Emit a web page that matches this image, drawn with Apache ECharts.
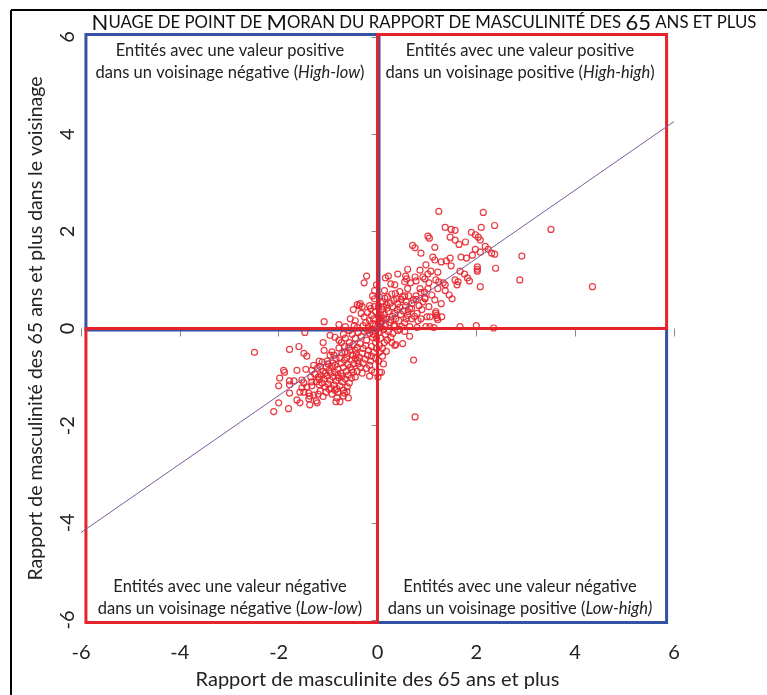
<!DOCTYPE html>
<html><head><meta charset="utf-8">
<script src="https://cdn.jsdelivr.net/npm/echarts@6/dist/echarts.min.js"></script>
<style>html,body{margin:0;padding:0;background:#fff}#c{width:767px;height:695px}</style>
</head><body><div id="c"></div>
<script>
const titleText = 'Nuage de point de Moran du rapport de masculinité des 65 ans et plus';
const xAxisTitle = 'Rapport de masculinite des 65 ans et plus';
const yAxisTitle = 'Rapport de masculinité des 65 ans et plus dans le voisinage';
const axisMin = -6, axisMax = 6, axisStep = 2;

const quadrantLabels = [
  ['Entités avec une valeur positive', 'dans un voisinage négative (', 'High-low', ')'],
  ['Entités avec une valeur positive', 'dans un voisinage positive (', 'High-high', ')'],
  ['Entités avec une valeur négative', 'dans un voisinage négative (', 'Low-low', ')'],
  ['Entités avec une valeur négative', 'dans un voisinage positive (', 'Low-high)', '']
];
// quadrant boxes [x0, y0, x1, y1] in data units
const blueBoxes = [[-5.9, -0.03, 0.03, 6.05], [0, -6.05, 5.85, 0]];
const redBoxes = [[0, 0, 5.85, 6.05], [-5.9, -6.05, 0, 0]];

const regressionLine = [[-6, -4.2], [6, 4.26]];

const upperRight = [
[1.24,2.41],[2.14,2.39],[2.37,2.12],[3.51,2.04],[1.37,2.08],[1.49,2.04],[1.57,2.02],[2.10,2.08],[1.02,1.90],[1.05,1.86],
[1.47,1.88],[1.90,1.98],[1.98,1.93],[2.04,1.88],[2.08,1.82],[1.57,1.82],[1.78,1.78],[1.65,1.73],[0.71,1.71],[0.76,1.66],
[1.16,1.67],[1.98,1.63],[2.18,1.69],[2.24,1.63],[0.88,1.55],[2.08,1.57],[1.92,1.51],[2.31,1.55],[2.37,1.53],[2.92,1.49],
[1.12,1.47],[1.16,1.41],[1.47,1.45],[1.69,1.47],[1.80,1.45],[1.29,1.37],[1.39,1.39],[0.98,1.31],[1.49,1.29],[2.02,1.27],
[2.02,1.22],[2.02,1.18],[2.39,1.24],[0.61,1.22],[0.86,1.20],[1.22,1.16],[1.08,1.18],[1.02,1.12],[1.67,1.18],[1.76,1.12],
[0.22,1.08],[0.16,1.04],[0.41,1.12],[0.57,1.08],[0.59,1.02],[0.76,1.06],[0.78,0.98],[0.92,1.06],[0.96,1.02],[1.18,1.00],
[1.24,0.96],[1.04,0.94],[1.33,0.94],[1.37,0.90],[1.57,1.00],[1.63,0.96],[1.61,0.90],[1.82,1.04],[1.86,0.98],[2.88,1.00],
[4.35,0.86],[2.08,0.86],[0.27,0.92],[0.35,0.90],[0.55,0.96],[0.67,0.94],[0.14,0.78],[0.61,0.82],[0.86,0.82],[0.88,0.74],
[1.02,0.82],[1.22,0.82],[1.37,0.78],[0.45,0.76],[0.20,0.65],[0.29,0.71],[0.39,0.61],[0.51,0.65],[0.63,0.67],[0.73,0.59],
[0.96,0.63],[1.10,0.69],[1.16,0.59],[1.45,0.69],[1.51,0.61],[0.10,0.55],[0.18,0.49],[0.31,0.45],[0.41,0.51],[0.57,0.47],
[0.69,0.41],[0.84,0.47],[0.90,0.39],[1.04,0.45],[1.29,0.51],[0.08,0.39],[0.22,0.35],[0.35,0.31],[0.47,0.29],[0.61,0.27],
[0.80,0.31],[1.00,0.24],[1.18,0.31],[0.12,0.22],[0.27,0.18],[0.43,0.16],[0.55,0.12],[0.69,0.20],[0.82,0.16],[0.98,0.04],
[1.22,0.18],[0.06,0.12],[0.16,0.08],[0.33,0.06],[0.49,0.04],[0.65,0.04],[0.80,0.02],[1.06,0.04],[1.14,0.02],[1.67,0.04],
[2.00,0.06],[2.35,0.01],[1.20,0.22],[1.30,0.24],[1.20,0.27],[0.14,0.29],[0.04,0.20],[0.02,0.45],[0.04,0.65],[0.03,0.05],
[0.08,0.02],[0.05,0.10],[0.10,0.15],[0.18,0.20],[0.24,0.12],[0.30,0.25],[0.37,0.20],[0.40,0.38],[0.45,0.44],[0.52,0.36],
[0.58,0.55],[0.26,0.52],[0.33,0.58],[0.15,0.62],[0.06,0.30],[0.02,0.25],[0.20,0.42],[0.12,0.45],[0.48,0.60],[0.36,0.72],
[0.70,0.52],[0.78,0.60],[0.92,0.55],[0.62,0.35],[0.75,0.25],[0.88,0.20],[0.35,0.05],[0.58,0.20],[0.95,0.75],[0.55,0.67],
[0.78,0.67],[0.96,0.61],[1.18,0.35],[1.06,0.24],[0.65,0.41]
];

const lowerLeft = [
[-2.49,-0.49],[-1.78,-0.43],[-1.59,-0.37],[-1.49,-0.51],[-1.43,-0.57],[-0.96,-0.14],[-0.86,-0.18],[-1.10,-0.29],[-1.08,-0.45],[-0.96,-0.55],
[-0.88,-0.55],[-0.73,-0.29],[-0.65,-0.20],[-0.67,-0.37],[-0.57,-0.29],[-0.55,-0.45],[-1.18,-0.67],[-1.02,-0.67],[-0.90,-0.71],[-0.76,-0.61],
[-0.67,-0.65],[-0.45,-0.61],[-0.39,-0.73],[-1.45,-0.84],[-1.90,-0.86],[-1.88,-0.90],[-1.63,-0.86],[-1.98,-1.02],[-1.78,-1.08],[-1.69,-1.08],
[-1.78,-1.16],[-1.53,-1.06],[-1.49,-1.12],[-2.00,-1.18],[-1.53,-1.22],[-1.43,-1.20],[-1.33,-1.18],[-1.78,-1.33],[-1.57,-1.31],[-1.49,-1.31],
[-1.39,-1.33],[-1.37,-1.39],[-1.29,-1.37],[-1.20,-1.35],[-1.39,-1.45],[-2.00,-1.53],[-1.63,-1.47],[-1.57,-1.53],[-1.24,-1.49],[-1.22,-1.53],
[-0.82,-1.43],[-0.76,-1.51],[-0.84,-1.51],[-0.69,-1.39],[-0.59,-1.43],[-2.10,-1.71],[-1.80,-1.65],[-1.37,-1.57],[-1.47,-0.08],
[-1.29,-0.76],[-1.22,-0.82],[-1.16,-0.78],[-1.10,-0.88],[-1.04,-0.80],[-0.98,-0.86],[-0.92,-0.78],[-0.86,-0.90],[-0.80,-0.84],[-0.74,-0.92],
[-0.69,-0.80],[-0.63,-0.88],[-0.59,-0.96],[-1.27,-0.94],[-1.20,-1.00],[-1.14,-0.96],[-1.08,-1.04],[-1.02,-0.98],[-0.96,-1.06],[-0.90,-1.00],
[-0.84,-1.08],[-0.78,-1.02],[-0.71,-1.10],[-0.65,-1.04],[-0.57,-1.12],[-1.24,-1.10],[-1.18,-1.16],[-1.12,-1.12],[-1.06,-1.20],[-1.00,-1.14],
[-0.94,-1.22],[-0.88,-1.16],[-0.82,-1.24],[-0.76,-1.18],[-0.69,-1.27],[-0.61,-1.20],[-1.16,-1.29],[-1.04,-1.31],[-0.92,-1.35],[-0.80,-1.31],
[-0.67,-1.33],[-1.33,-0.86],[-1.35,-1.00],[-1.33,-1.10],[-0.53,-1.02],[-0.49,-0.90],[-0.55,-0.80],[-1.00,-0.73],[-1.12,-0.69],[-0.86,-0.76],
[-0.73,-0.71],[-0.94,-0.92],[-1.06,-0.92],[-0.80,-0.96],[-0.98,-1.25],[-1.10,-1.40],[-0.86,-1.27],[-0.72,-0.98],[-1.18,-1.04],[-0.62,-1.30],
[-0.51,-0.12],[-0.45,-0.20],[-0.39,-0.08],[-0.33,-0.16],[-0.27,-0.06],[-0.22,-0.24],[-0.16,-0.10],[-0.10,-0.18],[-0.06,-0.04],[-0.04,-0.29],
[-0.49,-0.33],[-0.41,-0.39],[-0.35,-0.31],[-0.29,-0.41],[-0.24,-0.35],[-0.18,-0.45],[-0.12,-0.37],[-0.08,-0.49],[-0.02,-0.41],[-0.43,-0.53],
[-0.37,-0.59],[-0.31,-0.51],[-0.25,-0.63],[-0.20,-0.55],[-0.14,-0.67],[-0.12,-0.57],[-0.04,-0.61],[-0.35,-0.80],[-0.29,-0.71],[-0.22,-0.82],
[-0.16,-0.76],[-0.06,-0.90],[-0.16,-0.98],[-0.12,-0.86],[-0.31,-0.92],[-0.45,-1.00],[-0.41,-0.88],[-0.69,-0.12],[-0.78,-0.24],[-0.61,-0.51],
[-0.53,-0.65],[-0.14,-0.02],[-0.08,-0.12],[-0.02,-0.20],[-0.20,-0.04],[-0.57,-0.04],[-0.45,-0.45],[-0.50,-0.55],[-0.58,-0.38],[-0.62,-0.60],
[-0.66,-0.48],[-0.72,-0.50],[-0.78,-0.40],[-0.84,-0.62],[-0.92,-0.48],[-0.48,-0.72],[-0.40,-0.66],[-0.52,-0.85],[-0.60,-0.74]
];

const upperLeft = [
[-0.22,1.08],[-0.27,0.94],[-0.35,0.51],[-0.41,0.49],[-1.08,0.14],[-0.55,0.20],[-0.47,0.06],[-0.41,0.02],[-0.37,0.47],[-0.31,0.45],
[-0.16,0.47],[-0.14,0.41],[-0.10,0.67],[-0.06,0.61],[-0.33,0.31],[-0.27,0.24],[-0.20,0.33],[-0.12,0.27],[-0.08,0.20],[-0.04,0.35],
[-0.24,0.12],[-0.16,0.16],[-0.10,0.10],[-0.04,0.06],[-0.45,0.16],[-0.65,0.04],[-0.78,0.08],[-0.49,0.39],[-0.29,0.06],[-0.18,0.02],
[-0.06,0.45],[-0.02,0.90],[-0.06,0.78]
];

const lowerRight = [
[0.65,-0.16],[0.51,-0.31],[0.35,-0.35],[0.37,-0.33],[0.73,-0.65],[0.76,-1.82],[0.04,-0.90],[0.08,-0.90],[0.10,-0.57],[0.10,-0.41],
[0.04,-0.35],[0.06,-0.20],[0.16,-0.12],[0.22,-0.06],[0.20,-0.24],[0.31,-0.10],[0.41,-0.04],[0.45,-0.02],[0.02,-0.08],[0.12,-0.02],
[0.02,-0.67],[0.04,-0.49],[0.14,-0.29],[0.27,-0.18],[0.55,-0.06],[0.29,-0.29],[0.18,-0.47],[0.12,-0.73],[0.01,-1.00]
];

const RED = '#e5232b', BLUE = '#3452a3', PTS = '#e6262f';
const FONT = 'Lato';

function smallCaps(s) {
  let out = '', cur = null, buf = '';
  for (const ch of s) {
    const big = (ch !== ' ' && (ch === ch.toUpperCase() && ch !== ch.toLowerCase() || /[0-9]/.test(ch)));
    const k = big ? 'b' : 's';
    if (k !== cur && buf) { out += '{' + cur + '|' + buf + '}'; buf = ''; }
    cur = k; buf += ch.toUpperCase();
  }
  if (buf) out += '{' + cur + '|' + buf + '}';
  return out;
}

function boxSeries(boxes, color, z) {
  return {
    type: 'custom', z: z, clip: false, silent: true,
    data: boxes,
    renderItem: function (params, api) {
      const p0 = api.coord([api.value(0), api.value(3)]);
      const p1 = api.coord([api.value(2), api.value(1)]);
      return { type: 'rect', shape: { x: p0[0], y: p0[1], width: p1[0] - p0[0], height: p1[1] - p0[1] },
        style: { fill: null, stroke: color, lineWidth: 3 } };
    }
  };
}

const richQ = {
  n: { fontFamily: FONT, fontSize: 16.5, fill: '#222', lineHeight: 22 },
  i: { fontFamily: FONT, fontSize: 16.5, fontStyle: 'italic', fill: '#222', lineHeight: 22 }
};
function quadText(lbl, x, y) {
  return { type: 'text', x: x, y: y, z: 50, silent: true,
    style: { text: '{n|' + lbl[0] + '}\n{n|' + lbl[1] + '}{i|' + lbl[2] + '}{n|' + lbl[3] + '}', rich: richQ,
      align: 'center', verticalAlign: 'top', fill: '#222' } };
}

const chart = echarts.init(document.getElementById('c'), null, { renderer: 'canvas' });
const scatterStyle = { color: 'rgba(0,0,0,0)', borderColor: PTS, borderWidth: 1.2, opacity: 0.9 };
function pts(data, name) {
  return { type: 'scatter', name: name, data: data, symbol: 'circle', symbolSize: 6, z: 5, silent: true, itemStyle: scatterStyle };
}
chart.setOption({
  animation: false,
  backgroundColor: '#fff',
  grid: { left: 81, right: 93, top: 37, bottom: 73 },
  xAxis: {
    type: 'value', min: axisMin, max: axisMax, interval: axisStep,
    splitLine: { show: false }, axisLine: { show: false },
    axisTick: { show: true, length: 8, lineStyle: { color: '#888' } },
    axisLabel: { margin: 23, fontFamily: FONT, fontSize: 20, color: '#222' },
    name: xAxisTitle, nameLocation: 'middle', nameGap: 50,
    nameTextStyle: { fontFamily: FONT, fontSize: 20, color: '#222' }
  },
  yAxis: {
    type: 'value', min: axisMin, max: axisMax, interval: axisStep,
    splitLine: { show: false }, axisLine: { show: false },
    axisTick: { show: true, length: 6, lineStyle: { color: '#888' } },
    axisLabel: { margin: 3, rotate: 90, fontFamily: FONT, fontSize: 20, color: '#222' },
    name: yAxisTitle, nameLocation: 'middle', nameGap: 35,
    nameTextStyle: { fontFamily: FONT, fontSize: 19.5, color: '#222' }
  },
  graphic: [
    { type: 'line', shape: { x1: 11, y1: 10, x2: 767, y2: 10 }, style: { stroke: '#000', lineWidth: 2 } },
    { type: 'line', shape: { x1: 11, y1: 10, x2: 11, y2: 695 }, style: { stroke: '#000', lineWidth: 2 } },
    { type: 'text', x: 424, y: 12, style: { text: smallCaps(titleText), align: 'center', verticalAlign: 'top',
        rich: { b: { fontFamily: FONT, fontSize: 22, fill: '#111' }, s: { fontFamily: FONT, fontSize: 16.8, fill: '#111' } } } },
    quadText(quadrantLabels[0], 230, 40),
    quadText(quadrantLabels[1], 520, 40),
    quadText(quadrantLabels[2], 230, 576),
    quadText(quadrantLabels[3], 520, 576)
  ],
  series: [
    boxSeries(blueBoxes, BLUE, 1),
    boxSeries(redBoxes, RED, 2),
    pts(upperRight, 'hh'), pts(lowerLeft, 'll'), pts(upperLeft, 'hl'), pts(lowerRight, 'lh'),
    { type: 'line', data: regressionLine, symbol: 'none', z: 6, silent: true,
      lineStyle: { color: '#7d5c9e', width: 1 } }
  ]
});
</script></body></html>
